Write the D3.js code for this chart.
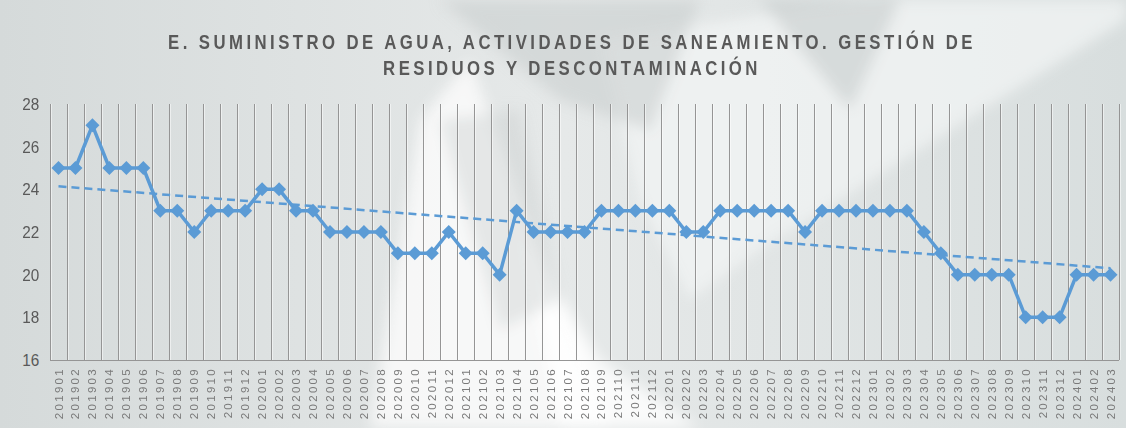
<!DOCTYPE html>
<html>
<head>
<meta charset="utf-8">
<script src="https://cdn.jsdelivr.net/npm/d3@7"></script>
<style>
  body { margin: 0; background: #fff; }
  svg { display: block; }
</style>
</head>
<body>
<svg id="chart" width="1126" height="428"></svg>
<script>
// months 201901 .. 202403
const periods = ["201901","201902","201903","201904","201905","201906","201907","201908","201909","201910","201911","201912",
  "202001","202002","202003","202004","202005","202006","202007","202008","202009","202010","202011","202012",
  "202101","202102","202103","202104","202105","202106","202107","202108","202109","202110","202111","202112",
  "202201","202202","202203","202204","202205","202206","202207","202208","202209","202210","202211","202212",
  "202301","202302","202303","202304","202305","202306","202307","202308","202309","202310","202311","202312",
  "202401","202402","202403"];
const values = [25,25,27,25,25,25,23,23,22,23,23,23,
  24,24,23,23,22,22,22,22,21,21,21,22,
  21,21,20,23,22,22,22,22,23,23,23,23,
  23,22,22,23,23,23,23,23,22,23,23,23,
  23,23,23,22,21,20,20,20,20,18,18,18,
  20,20,20];
const yTicks = [16,18,20,22,24,26,28];
const titleLines = ["E. SUMINISTRO DE AGUA, ACTIVIDADES DE SANEAMIENTO. GESTIÓN DE",
  "RESIDUOS Y DESCONTAMINACIÓN"];

const W = 1126, H = 428;
const m = {left: 50, right: 7, top: 104, bottom: 68};
const svg = d3.select("#chart");

// background, a rough stand-in for the photo behind the chart
const defs = svg.append("defs");
const bg = defs.append("linearGradient").attr("id", "bg").attr("x1", 0).attr("y1", 0).attr("x2", 1).attr("y2", 0);
bg.append("stop").attr("offset", "0%").attr("stop-color", "#d5dada");
bg.append("stop").attr("offset", "50%").attr("stop-color", "#e6e9e9");
bg.append("stop").attr("offset", "100%").attr("stop-color", "#d8dede");
defs.append("filter").attr("id", "blur").append("feGaussianBlur").attr("stdDeviation", 7);
svg.append("rect").attr("width", W).attr("height", H).attr("fill", "url(#bg)");
const shapes = svg.append("g").attr("filter", "url(#blur)");
shapes.append("path").attr("d", "M370,428 L420,120 L470,60 L520,200 L610,428 Z").attr("fill", "#fafafa").attr("opacity", 0.85);
shapes.append("path").attr("d", "M520,230 L600,360 L700,428 L560,428 Z").attr("fill", "#ffffff").attr("opacity", 0.8);
shapes.append("path").attr("d", "M600,40 L860,0 L1126,0 L1126,20 L760,250 L690,300 L640,200 Z").attr("fill", "#f2f4f4").attr("opacity", 0.75);
shapes.append("path").attr("d", "M440,0 L700,0 L650,130 L560,100 Z").attr("fill", "#c6cccc").attr("opacity", 0.55);
shapes.append("path").attr("d", "M760,0 L900,0 L850,110 Z").attr("fill", "#c0c6c6").attr("opacity", 0.5);
shapes.append("path").attr("d", "M440,120 L520,110 L560,300 L500,330 Z").attr("fill", "#c8cece").attr("opacity", 0.4);

const x = d3.scaleBand().domain(periods).range([m.left, W - m.right]);
const y = d3.scaleLinear().domain([16, 28]).range([H - m.bottom, m.top]);
const cx = d => x(d) + x.bandwidth() / 2;

// vertical gridlines between categories
const bounds = periods.map(p => x(p)).concat([x.range()[1]]);
svg.append("g").selectAll("line").data(bounds).join("line")
  .attr("x1", d => Math.round(d) + 0.5).attr("x2", d => Math.round(d) + 0.5)
  .attr("y1", y(28)).attr("y2", y(16))
  .attr("stroke", "#959595").attr("stroke-width", 1);
svg.append("g").selectAll("line").data(bounds).join("line")
  .attr("x1", d => Math.round(d) + 1.5).attr("x2", d => Math.round(d) + 1.5)
  .attr("y1", y(28)).attr("y2", y(16))
  .attr("stroke", "#ffffff").attr("stroke-opacity", 0.5).attr("stroke-width", 1);

// x axis line
svg.append("line").attr("x1", m.left).attr("x2", W - m.right)
  .attr("y1", y(16) + 0.5).attr("y2", y(16) + 0.5).attr("stroke", "#959595");

// y axis labels
const yAxis = d3.axisLeft(y).tickValues(yTicks).tickSize(0).tickPadding(12);
const gy = svg.append("g").attr("transform", `translate(${m.left},0)`).call(yAxis);
gy.select(".domain").remove();
gy.selectAll("text").attr("font-family", "Liberation Sans Narrow, Liberation Sans, Arial, sans-serif")
  .attr("font-size", 17).attr("fill", "#595959")
  .attr("transform", "scale(0.9,1)");

// x axis labels, vertical
const xAxis = d3.axisBottom(x).tickSize(0).tickPadding(0);
const gx = svg.append("g").attr("transform", `translate(0,${y(16)})`).call(xAxis);
gx.select(".domain").remove();
gx.selectAll("text")
  .attr("font-family", "Liberation Sans, Arial, sans-serif")
  .attr("font-size", 11.5).attr("fill", "#7a7a7a")
  .attr("letter-spacing", 2.3)
  .attr("text-anchor", "end")
  .attr("dy", "0.35em")
  .attr("transform", "translate(0,7) rotate(-90)");

// linear trend line (least squares over the series)
const n = values.length;
const xs = d3.range(n);
const mx = d3.mean(xs), my = d3.mean(values);
const slope = d3.sum(xs, i => (i - mx) * (values[i] - my)) / d3.sum(xs, i => (i - mx) ** 2);
const icpt = my - slope * mx;
svg.append("line")
  .attr("x1", cx(periods[0])).attr("y1", y(icpt))
  .attr("x2", cx(periods[n - 1])).attr("y2", y(icpt + slope * (n - 1)))
  .attr("stroke", "#5b9bd5").attr("stroke-width", 2.5).attr("stroke-dasharray", "8,5");

// series line
const line = d3.line().x((d, i) => cx(periods[i])).y(d => y(d));
svg.append("path").datum(values).attr("d", line)
  .attr("fill", "none").attr("stroke", "#5b9bd5").attr("stroke-width", 3.5).attr("stroke-linejoin", "round");

// diamond markers
const sym = d3.symbol().type(d3.symbolDiamond2).size(125);
svg.append("g").selectAll("path").data(values).join("path")
  .attr("d", sym)
  .attr("transform", (d, i) => `translate(${cx(periods[i])},${y(d)})`)
  .attr("fill", "#5b9bd5");

// title (condensed look via horizontal squeeze + spacing)
const title = svg.append("g").attr("transform", "translate(572,0) scale(0.86,1)");
title.append("text")
  .attr("text-anchor", "middle")
  .attr("font-family", "Liberation Sans, Arial, sans-serif")
  .attr("font-weight", "bold").attr("font-size", 19.5).attr("fill", "#595959")
  .attr("letter-spacing", 4)
  .selectAll("tspan").data(titleLines).join("tspan")
  .attr("x", 0).attr("y", (d, i) => 49 + i * 26)
  .text(d => d);
</script>
</body>
</html>
